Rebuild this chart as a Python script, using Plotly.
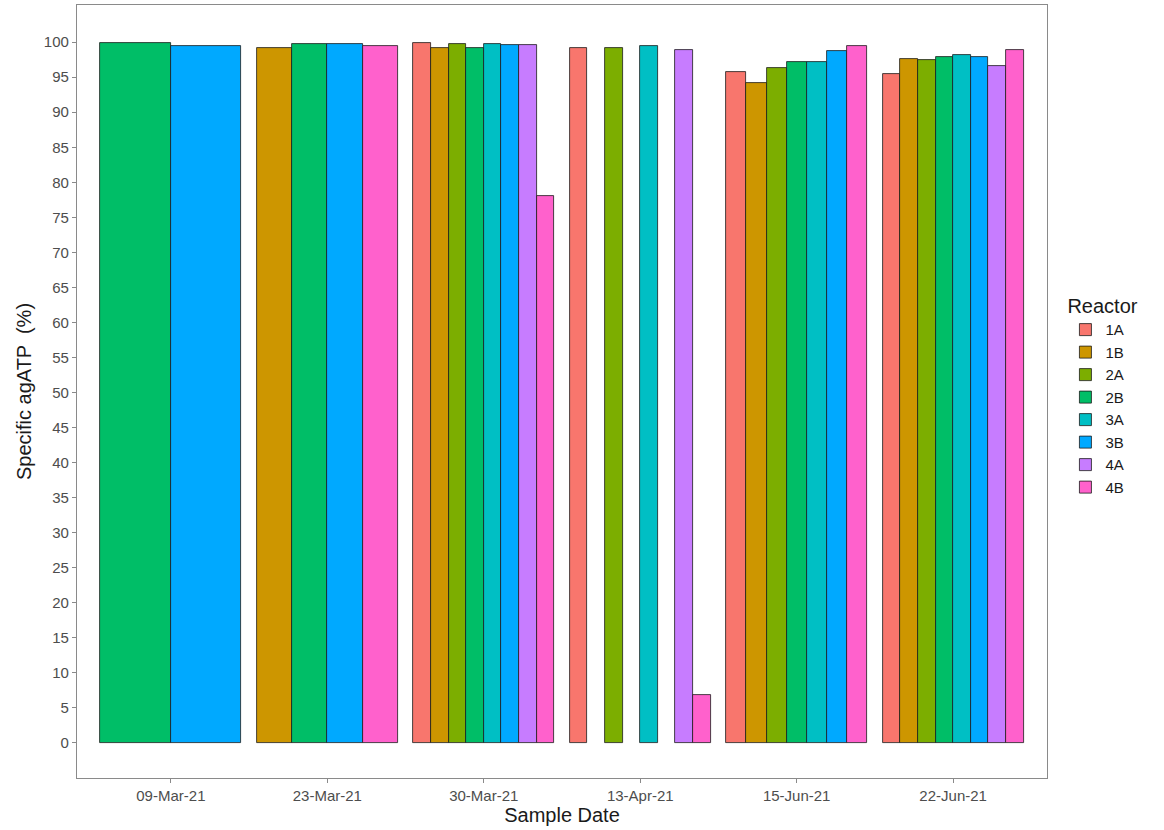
import plotly.graph_objects as go

dates = ["09-Mar-21", "23-Mar-21", "30-Mar-21", "13-Apr-21", "15-Jun-21", "22-Jun-21"]
reactors = ["1A", "1B", "2A", "2B", "3A", "3B", "4A", "4B"]
colors = ["#F8766D", "#CD9600", "#7CAE00", "#00BE67", "#00BFC4", "#00A9FF", "#C77CFF", "#FF61CC"]

# reactors sampled on each date (slots in the dodge group; None value = NA)
members = [
    ["2B", "3B"],
    ["1B", "2B", "3B", "4B"],
    ["1A", "1B", "2A", "2B", "3A", "3B", "4A", "4B"],
    ["1A", "1B", "2A", "2B", "3A", "3B", "4A", "4B"],
    ["1A", "1B", "2A", "2B", "3A", "3B", "4B"],
    ["1A", "1B", "2A", "2B", "3A", "3B", "4A", "4B"],
]

# values per reactor, aligned with dates (None = missing)
v_1A = [None, None, 99.9, 99.2, 95.7, 95.4]
v_1B = [None, 99.1, 99.1, None, 94.2, 97.6]
v_2A = [None, None, 99.8, 99.2, 96.3, 97.5]
v_2B = [99.9, 99.8, 99.1, None, 97.2, 97.9]
v_3A = [None, None, 99.8, 99.4, 97.2, 98.1]
v_3B = [99.5, 99.8, 99.6, None, 98.8, 97.9]
v_4A = [None, None, 99.6, 98.9, None, 96.6]
v_4B = [None, 99.5, 78.0, 6.9, 99.5, 98.9]
values = {"1A": v_1A, "1B": v_1B, "2A": v_2A, "2B": v_2B,
          "3A": v_3A, "3B": v_3B, "4A": v_4A, "4B": v_4B}

fig = go.Figure()
group_width = 0.9
for r, c in zip(reactors, colors):
    xs, ys, ws = [], [], []
    for i, d in enumerate(dates):
        grp = members[i]
        if r not in grp:
            continue
        val = values[r][i]
        if val is None:
            continue
        n = len(grp)
        w = group_width / n
        k = grp.index(r)
        xs.append((i + 1) - group_width / 2 + (k + 0.5) * w)
        ys.append(val)
        ws.append(w)
    fig.add_trace(go.Bar(
        x=xs, y=ys, width=ws, name=r,
        marker=dict(color=c, line=dict(color="#1a1a1a", width=0.8)),
    ))

tick_font = dict(family="Liberation Sans, Arial, sans-serif", size=15, color="#4D4D4D")
title_font = dict(family="Liberation Sans, Arial, sans-serif", size=20, color="#1a1a1a")

fig.update_layout(
    width=1164, height=830,
    margin=dict(l=77, r=117, t=5, b=52),
    plot_bgcolor="white", paper_bgcolor="white",
    barmode="overlay", bargap=0,
    showlegend=True,
    legend=dict(
        title=dict(text="Reactor", font=dict(family="Liberation Sans, Arial, sans-serif", size=20, color="#1a1a1a")),
        font=dict(family="Liberation Sans, Arial, sans-serif", size=15, color="#1a1a1a"),
        x=1.019, xanchor="left", y=0.495, yanchor="middle",
        tracegroupgap=0, bgcolor="rgba(0,0,0,0)",
    ),
    xaxis=dict(
        range=[0.4, 6.6], tickvals=list(range(1, len(dates) + 1)), ticktext=dates,
        showgrid=False, zeroline=False, showline=True, mirror=True,
        linecolor="#8a8a8a", linewidth=1.2,
        ticks="outside", ticklen=4, tickcolor="#8a8a8a",
        tickfont=tick_font,
        title=dict(text="Sample Date", font=title_font, standoff=4),
    ),
    yaxis=dict(
        range=[-5, 105.3], tickvals=list(range(0, 101, 5)),
        showgrid=False, zeroline=False, showline=True, mirror=True,
        linecolor="#8a8a8a", linewidth=1.2,
        ticks="outside", ticklen=4, tickcolor="#8a8a8a",
        tickfont=tick_font,
        title=dict(text="Specific agATP  (%)", font=title_font, standoff=6),
    ),
)

fig.write_html("out.html", config={"displayModeBar": False},
               post_script="document.body.style.margin='0px';")
